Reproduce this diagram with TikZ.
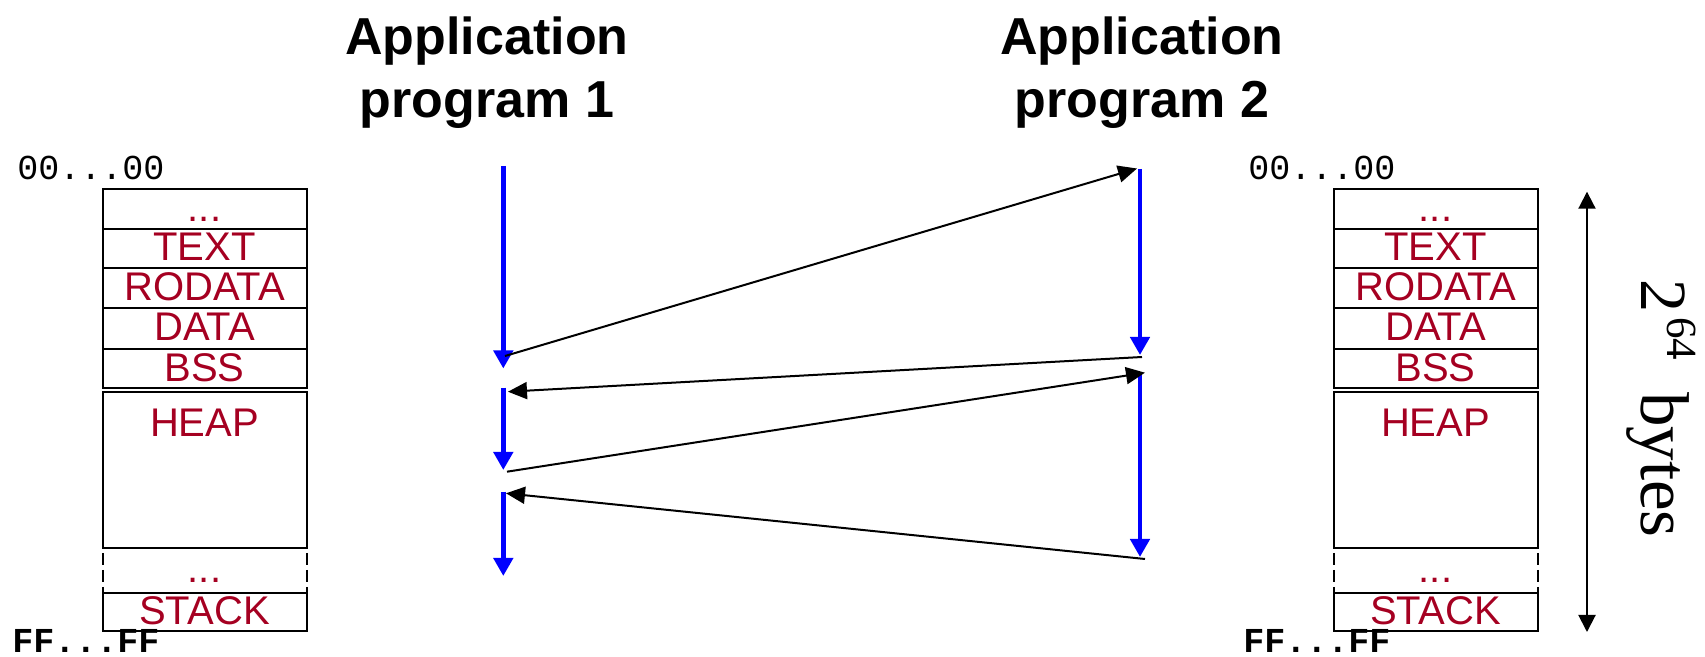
\documentclass[tikz,border=0pt]{standalone}
\usepackage{fontspec}
\usepackage{graphicx}
\setmainfont{Liberation Sans}
\newfontfamily\monofont{Liberation Mono}
\newfontfamily\seriffont{Liberation Serif}
\usetikzlibrary{arrows.meta}
\definecolor{segred}{RGB}{165,0,33}
\definecolor{flowblue}{RGB}{0,0,255}

\begin{document}
\begin{tikzpicture}[x=0.5pt,y=-0.5pt,
  seg/.style={font=\fontsize{20}{20}\selectfont, text=segred, anchor=base, inner sep=0pt},
  addr/.style={font=\monofont\fontsize{17.5}{17.5}\selectfont, anchor=base west, inner sep=0pt},
  title/.style={font=\bfseries\fontsize{26}{26}\selectfont, anchor=base, inner sep=0pt},
  box/.style={draw=black, line width=1pt},
  gapside/.style={draw=black, line width=1pt, dash pattern=on 6pt off 2.5pt},
  run/.style={draw=flowblue, line width=2.3pt, -{Triangle[length=9pt,width=9.5pt]}},
  switch/.style={draw=black, line width=1pt, -{Triangle[length=9.5pt,width=8.5pt]}},
]
\useasboundingbox (0,0) rectangle (1705,657);

% ---- titles
\node[title] (t1a) at (487,55) {Application};
\node[title] (t1b) at (487,118) {program 1};
\node[title] (t2a) at (1142,55) {Application};
\node[title] (t2b) at (1142,118) {program 2};

% ---- the two address-space layouts
\foreach \ox/\nm in {0/L,1231/R}{
  \begin{scope}[xshift=\ox*0.5pt]
    \draw[box] (102.5,189) rectangle (306.5,388);
    \foreach \yy in {228.7,268.3,308.3,348.7}
      \draw[box] (102.5,\yy) -- (306.5,\yy);
    \draw[box] (102.5,392) rectangle (306.5,548.3);
    \draw[gapside] (102.5,553) -- (102.5,593.5);
    \draw[gapside] (306.5,553) -- (306.5,593.5);
    \draw[box] (102.5,593.5) rectangle (306.5,631);
    \node[seg] (\nm-dots1) at (204.5,221.5) {...};
    \node[seg] (\nm-text) at (204.5,260.5) {TEXT};
    \node[seg] (\nm-rodata) at (204.5,301) {RODATA};
    \node[seg] (\nm-data) at (204.5,340.5) {DATA};
    \node[seg] (\nm-bss) at (204.5,381.5) {BSS};
    \node[seg] (\nm-heap) at (204.5,436.5) {HEAP};
    \node[seg] (\nm-dots2) at (204.5,583) {...};
    \node[seg] (\nm-stack) at (204.5,625) {STACK};
    \node[addr] (\nm-low) at (17,180) {00...00};
    \node[addr, font=\monofont\bfseries\fontsize{17.5}{17.5}\selectfont] (\nm-high) at (12,653) {FF...FF};
  \end{scope}
}

% ---- size of the address space
\coordinate (span-top) at (1587,191.7);
\coordinate (span-bot) at (1587,632);
\draw[line width=1pt, {Triangle[length=8.5pt,width=8.5pt]}-{Triangle[length=8.5pt,width=8.5pt]}] (span-top) -- (span-bot);
\node[rotate=-90, anchor=base, inner sep=0pt] (size) at (1641,408.5)
  {\seriffont\fontsize{33}{33}\selectfont 2\hspace{2.5pt}\raisebox{13pt}{\fontsize{21.5}{21.5}\selectfont 64}\hspace{16pt}\fontsize{34.5}{34.5}\selectfont bytes};

% ---- execution of program 1
\coordinate (p1s) at (503.3,166);   \coordinate (p1e) at (503.3,368.5);
\coordinate (p2s) at (503.3,387.7); \coordinate (p2e) at (503.3,470);
\coordinate (p3s) at (503.3,491.7); \coordinate (p3e) at (503.3,576);
% ---- execution of program 2
\coordinate (q1s) at (1140,169);    \coordinate (q1e) at (1140,355);
\coordinate (q2s) at (1140,372);    \coordinate (q2e) at (1140,557);

\draw[run] (p1s) -- (p1e);
\draw[run] (p2s) -- (p2e);
\draw[run] (p3s) -- (p3e);
\draw[run] (q1s) -- (q1e);
\draw[run] (q2s) -- (q2e);

% ---- context switches
\coordinate (x1a) at (505,356);    \coordinate (x1b) at (1137,168.5);
\coordinate (x2a) at (1142,357);   \coordinate (x2b) at (508,391.7);
\coordinate (x3a) at (507,471.7);  \coordinate (x3b) at (1145,372.7);
\coordinate (x4a) at (1145,559);   \coordinate (x4b) at (506,493.3);

\draw[switch] (x1a) -- (x1b);
\draw[switch] (x2a) -- (x2b);
\draw[switch] (x3a) -- (x3b);
\draw[switch] (x4a) -- (x4b);
\end{tikzpicture}
\end{document}
